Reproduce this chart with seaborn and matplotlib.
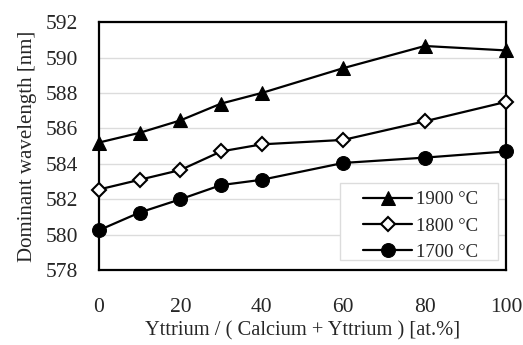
import matplotlib
matplotlib.use("Agg")
import matplotlib.pyplot as plt
from matplotlib.patches import Rectangle
import seaborn as sns
import pandas as pd

# Yttrium fraction [at.%] and dominant wavelength [nm] per sintering temperature
yttrium = [0, 10, 20, 30, 40, 60, 80, 100]
wl_1900 = [585.2, 585.75, 586.45, 587.4, 588.0, 589.4, 590.65, 590.4]
wl_1800 = [582.55, 583.1, 583.65, 584.7, 585.1, 585.35, 586.4, 587.5]
wl_1700 = [580.25, 581.25, 582.0, 582.8, 583.1, 584.05, 584.35, 584.7]
labels = ["1900 °C", "1800 °C", "1700 °C"]
y_ticks = [578, 580, 582, 584, 586, 588, 590, 592]
x_ticks = [0, 20, 40, 60, 80, 100]

sns.set_theme(style="white")
plt.rcParams["font.family"] = ["Liberation Serif", "DejaVu Serif"]

fig = plt.figure(figsize=(5.23, 3.45), dpi=100)
ax = fig.add_axes([0.189, 0.217, 0.779, 0.719])

styles = [
    dict(marker="^", markerfacecolor="black", markersize=10),
    dict(marker="D", markerfacecolor="white", markersize=7.5, markeredgewidth=1.5),
    dict(marker="o", markerfacecolor="black", markersize=10),
]
for vals, lab, st in zip([wl_1900, wl_1800, wl_1700], labels, styles):
    df = pd.DataFrame({"x": yttrium, "y": vals})
    sns.lineplot(data=df, x="x", y="y", ax=ax, color="black", linewidth=1.6,
                 markeredgecolor="black", label=lab, clip_on=False, zorder=3, **st)

ax.set_xlim(0, 100)
ax.set_ylim(578, 592)
ax.set_xticks(x_ticks)
ax.set_yticks(y_ticks)
ax.yaxis.grid(True, color="#dcdcdc", linewidth=1.0)
ax.xaxis.grid(False)
ax.tick_params(axis="x", length=0, pad=20, labelsize=15.5)
ax.tick_params(axis="y", length=0, pad=15, labelsize=15.5)
for s in ax.spines.values():
    s.set_color("black")
    s.set_linewidth(1.6)

ax.set_xlabel("Yttrium / ( Calcium + Yttrium ) [at.%]", fontsize=14.8, labelpad=3)
ax.set_ylabel("Dominant wavelength [nm]", fontsize=15, labelpad=6)

# legend box: white panel with a light grey border, entries placed inside it
ax.add_patch(Rectangle((0.592, 0.040), 0.388, 0.311, transform=ax.transAxes,
                       facecolor="white", edgecolor="#dcdcdc", linewidth=1.0,
                       zorder=4))
leg = ax.legend(loc="center left", bbox_to_anchor=(0.649, 0.178), fontsize=13.5,
                frameon=False, handlelength=2.6, handletextpad=0.2,
                borderpad=0, labelspacing=0.48, borderaxespad=0)
leg.set_zorder(5)

fig.savefig("out.png", dpi=100)
